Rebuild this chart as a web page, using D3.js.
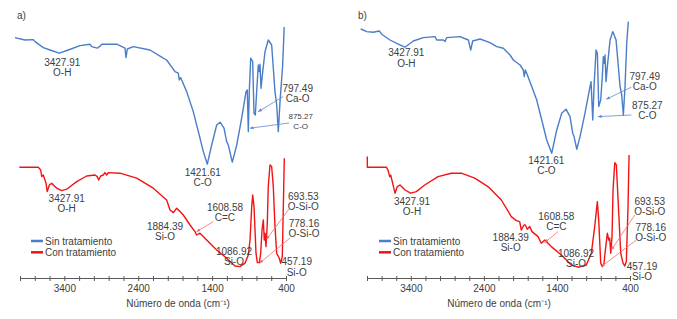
<!DOCTYPE html>
<html>
<head>
<meta charset="utf-8">
<script src="https://cdn.jsdelivr.net/npm/d3@7"></script>
<style>
  body { margin: 0; background: #fff; }
  svg { display: block; font-family: "Liberation Sans", Arial, sans-serif; }
</style>
</head>
<body>
<div id="chart"></div>
<script>
// wavenumber (cm-1), relative transmittance (a.u.)
const blueA = [[4068,121.2],[3932,120],[3820,120.2],[3797,119.2],[3685,116.2],[3594,115],[3468,113.4],[3346,115],[3188,117.2],[3053,117.9],[3030,116.7],[2954,115.9],[2908,117.2],[2894,117.9],[2691,117.9],[2579,115.9],[2565,111.2],[2548,115.5],[2467,116.7],[2241,115],[2061,110.9],[2015,110],[1902,104.2],[1858,103.4],[1844,100],[1825,101.2],[1812,100],[1744,94.2],[1655,84.2],[1564,70.9],[1519,64.2],[1465,57.9],[1406,67.5],[1338,77.5],[1293,78.9],[1239,75.9],[1203,69.2],[1181,67.5],[1127,58.9],[1067,67.5],[1000,80.9],[941,94.2],[924,95],[910,74.2],[897,94.2],[878,110.9],[851,109.2],[833,83.4],[815,82.5],[797,94.2],[775,107.5],[761,104.2],[752,107.9],[738,95.9],[715,104.2],[684,114.2],[640,120],[594,117.5],[549,94.2],[526,87.5],[504,74.2],[481,89.2],[445,107.5],[427,124.2],[425,126.5]];

const redA = [[4009,56.4],[3752,56.4],[3720,55],[3706,51.7],[3685,52.5],[3648,48.4],[3631,44.2],[3603,47.5],[3571,48.4],[3503,45.9],[3436,44.7],[3368,45.4],[3233,49.2],[3097,52],[2985,52.5],[2954,51.7],[2935,50],[2908,52],[2873,52.5],[2850,53.7],[2827,52.5],[2805,53.7],[2647,53.4],[2421,50.9],[2196,45.9],[2015,40],[1970,35],[1925,33.7],[1879,35.9],[1835,34.2],[1790,32.5],[1744,30],[1699,27.5],[1632,24.2],[1609,22.5],[1564,23.4],[1473,20],[1338,15],[1203,10.9],[1090,7],[1023,6.7],[955,8.4],[910,12.5],[887,20],[864,36.7],[851,42.5],[833,36.7],[806,13.4],[788,8.7],[761,8.7],[742,13.4],[725,25],[707,30],[694,20],[684,23.4],[671,16.7],[653,28.4],[640,46.7],[617,57.5],[594,56.7],[572,46.7],[549,26.7],[526,13.4],[491,10.9],[472,8.4],[450,11.7],[436,36.7],[423,60.9]];

const blueB = [[4086,125.5],[4004,124.2],[3914,123.9],[3832,124.5],[3799,122.9],[3685,120],[3572,117.9],[3480,116.4],[3366,119.5],[3229,121.2],[3069,121.7],[3046,120],[2955,120],[2932,119.2],[2909,121.2],[2727,121.7],[2613,120],[2580,115],[2553,119.5],[2453,120.5],[2316,118.7],[2224,116.7],[2134,115.9],[2042,112.5],[1997,110],[1905,107.5],[1860,105],[1847,101.7],[1833,105],[1814,103.4],[1745,96.7],[1677,90],[1608,80],[1540,70],[1471,63.4],[1403,75],[1335,83.4],[1276,85.4],[1221,81.7],[1184,73.4],[1166,71.7],[1129,65.4],[1084,71.7],[1016,83.4],[947,96.7],[933,99.2],[910,80],[892,96.7],[865,115],[847,113.4],[828,86.7],[801,90],[779,101.7],[765,111.7],[751,108.4],[742,112.5],[728,99.2],[710,106.7],[673,120],[636,124.2],[591,120],[536,96.7],[513,92.5],[491,82.5],[468,96.7],[445,118.4],[423,129.2]];

const redB = [[3996,61.7],[3995,56.4],[3735,56.4],[3713,55],[3689,51.7],[3676,52.5],[3654,49.2],[3617,43.4],[3585,46.7],[3548,47.5],[3480,45],[3402,43.4],[3325,44.2],[3210,47.5],[3028,51.7],[2846,53.4],[2709,53.4],[2526,50.9],[2344,46.7],[2161,40],[2025,31.7],[1956,29.7],[1910,29.2],[1888,25],[1851,27.5],[1833,27.5],[1806,25.4],[1773,26.7],[1741,24.2],[1659,21.7],[1614,18.4],[1567,20],[1477,16.7],[1340,12.5],[1203,7.5],[1111,6.4],[998,7.5],[929,13.4],[883,26.7],[847,39.2],[828,30],[801,8.4],[779,6.7],[756,8.4],[732,16.7],[710,23.4],[691,20],[678,20.9],[664,13.4],[646,21.7],[632,45],[609,58.7],[587,57.5],[563,40],[527,13.4],[495,8.4],[472,7],[450,9.2],[427,36.7],[413,62.5]];

const seriesNames = ["Sin tratamiento", "Con tratamiento"];
const majorTicks = [3400, 2400, 1400, 400];
const xTitle = "Número de onda (cm⁻¹)";

// labels: [lines, wavenumber, value]
const labelsA = [
  [["3427.91","O-H"], 3428, 109, "blue"],
  [["797.49","Ca-O"], 242, 95.9, "blue"],
  [["875.27","C-O"], 201, 82.2, "blue", "small"],
  [["1421.61","C-O"], 1527, 53.9, "blue"],
  [["3427.91","O-H"], 3368, 40.9, "red"],
  [["1884.39","Si-O"], 2038, 27, "red"],
  [["1608.58","C=C"], 1226, 36.4, "red"],
  [["1086.92","Si-O"], 1104, 14.5, "red"],
  [["693.53","O-Si-O"], 166, 42, "red"],
  [["778.16","O-Si-O"], 156, 28.4, "red"],
  [["457.19","Si-O"], 255, 9.2, "red"]
];
// arrows: [fromW, fromV, toW, toV]
const arrowsA = [
  [437, 91.7, 775, 84.2, "blue"],
  [359, 78.5, 887, 75.9, "blue"],
  [1384, 29.2, 1609, 24.2, "red"],
  [359, 35.5, 661, 20.5, "red"],
  [346, 21, 756, 8.5, "red"]
];

const labelsB = [
  [["3427.91","O-H"], 3462, 113.7, "blue"],
  [["797.49","Ca-O"], 198, 102, "blue"],
  [["875.27","C-O"], 163, 87.5, "blue"],
  [["1421.61","C-O"], 1545, 60, "blue"],
  [["3427.91","O-H"], 3384, 39.5, "red"],
  [["1884.39","Si-O"], 2033, 21.4, "red"],
  [["1608.58","C=C"], 1408, 32, "red"],
  [["1086.92","Si-O"], 1139, 13.4, "red"],
  [["693.53","O-Si-O"], 130, 39.5, "red"],
  [["778.16","O-Si-O"], 116, 26.4, "red"],
  [["457.19","Si-O"], 235, 7, "red"]
];
const arrowsB = [
  [382, 96.4, 724, 90.4, "blue"],
  [382, 82.5, 838, 81.7, "blue"],
  [1385, 24.2, 1567, 18.7, "red"],
  [335, 32.5, 656, 15, "red"],
  [313, 20, 792, 6.7, "red"]
];

const colors = {blue: "#4a7ec8", red: "#f21414"};
const arrowColors = {blue: "#5b8bd0", red: "#f56b6b"};
const textColor = "#404040";

const svg = d3.select("#chart").append("svg")
  .attr("width", 677)
  .attr("height", 319);

svg.append("rect").attr("width", 677).attr("height", 319).attr("fill", "#fff");

const defs = svg.append("defs");
Object.keys(arrowColors).forEach(function(k) {
  defs.append("marker")
    .attr("id", "arr-" + k)
    .attr("viewBox", "0 0 10 10")
    .attr("refX", 9).attr("refY", 5)
    .attr("markerWidth", 5).attr("markerHeight", 5)
    .attr("orient", "auto")
    .append("path")
    .attr("d", "M0,1L10,5L0,9Z")
    .attr("fill", arrowColors[k]);
});

const y = d3.scaleLinear().domain([0, 130]).range([280, 20]);

function drawPanel(p) {
  const x = d3.scaleLinear().domain([4000, 400]).range(p.range);
  const g = svg.append("g");

  // axis
  const ax = g.append("g")
    .attr("transform", "translate(0,278)")
    .call(d3.axisBottom(x)
      .tickValues(d3.range(4000, 399, -200))
      .tickSizeInner(3)
      .tickSizeOuter(0)
      .tickPadding(4)
      .tickFormat(function(d) { return majorTicks.includes(d) ? d : ""; }));
  ax.select(".domain").attr("stroke", "#595959");
  ax.selectAll(".tick line").attr("stroke", "#595959").attr("y1", -2);
  ax.selectAll(".tick text").attr("fill", textColor).style("font-size", "10px")
    .style("font-family", "Liberation Sans, Arial, sans-serif");

  g.append("text")
    .attr("x", p.titleX).attr("y", 307)
    .attr("text-anchor", "middle")
    .attr("fill", textColor)
    .style("font-size", "10px")
    .text(xTitle);

  g.append("text")
    .attr("x", p.tagX).attr("y", 19)
    .attr("fill", textColor)
    .style("font-size", "10px")
    .text(p.tag);

  const line = d3.line()
    .x(function(d) { return x(d[0]); })
    .y(function(d) { return y(d[1]); });

  g.append("path").datum(p.blue)
    .attr("fill", "none").attr("stroke", colors.blue)
    .attr("stroke-width", 1.4).attr("stroke-linejoin", "round")
    .attr("d", line);
  g.append("path").datum(p.red)
    .attr("fill", "none").attr("stroke", colors.red)
    .attr("stroke-width", 1.4).attr("stroke-linejoin", "round")
    .attr("d", line);

  p.arrows.forEach(function(a) {
    g.append("line")
      .attr("x1", x(a[0])).attr("y1", y(a[1]))
      .attr("x2", x(a[2])).attr("y2", y(a[3]))
      .attr("stroke", arrowColors[a[4]])
      .attr("stroke-width", 0.8)
      .attr("marker-end", "url(#arr-" + a[4] + ")");
  });

  p.labels.forEach(function(l) {
    const fs = l[4] == "small" ? 8 : 10;
    const t = g.append("text")
      .attr("text-anchor", "middle")
      .attr("fill", textColor)
      .style("font-size", fs + "px");
    l[0].forEach(function(s, i) {
      t.append("tspan")
        .attr("x", x(l[1]))
        .attr("y", y(l[2]) + 3.5 + i * (fs == 8 ? 9.5 : 10.7))
        .text(s);
    });
  });

  // legend
  seriesNames.forEach(function(name, i) {
    const ly = 241 + i * 11.3;
    g.append("line")
      .attr("x1", p.legendX).attr("x2", p.legendX + 12)
      .attr("y1", ly).attr("y2", ly)
      .attr("stroke", i == 0 ? colors.blue : colors.red)
      .attr("stroke-width", 2.5);
    g.append("text")
      .attr("x", p.legendX + 14).attr("y", ly + 3.5)
      .attr("fill", textColor)
      .style("font-size", "10px")
      .text(name);
  });
}

drawPanel({range: [20, 286], blue: blueA, red: redA, labels: labelsA, arrows: arrowsA,
  tag: "a)", tagX: 17, titleX: 178, legendX: 31});
drawPanel({range: [367, 630], blue: blueB, red: redB, labels: labelsB, arrows: arrowsB,
  tag: "b)", tagX: 358, titleX: 499, legendX: 379});
</script>
</body>
</html>
